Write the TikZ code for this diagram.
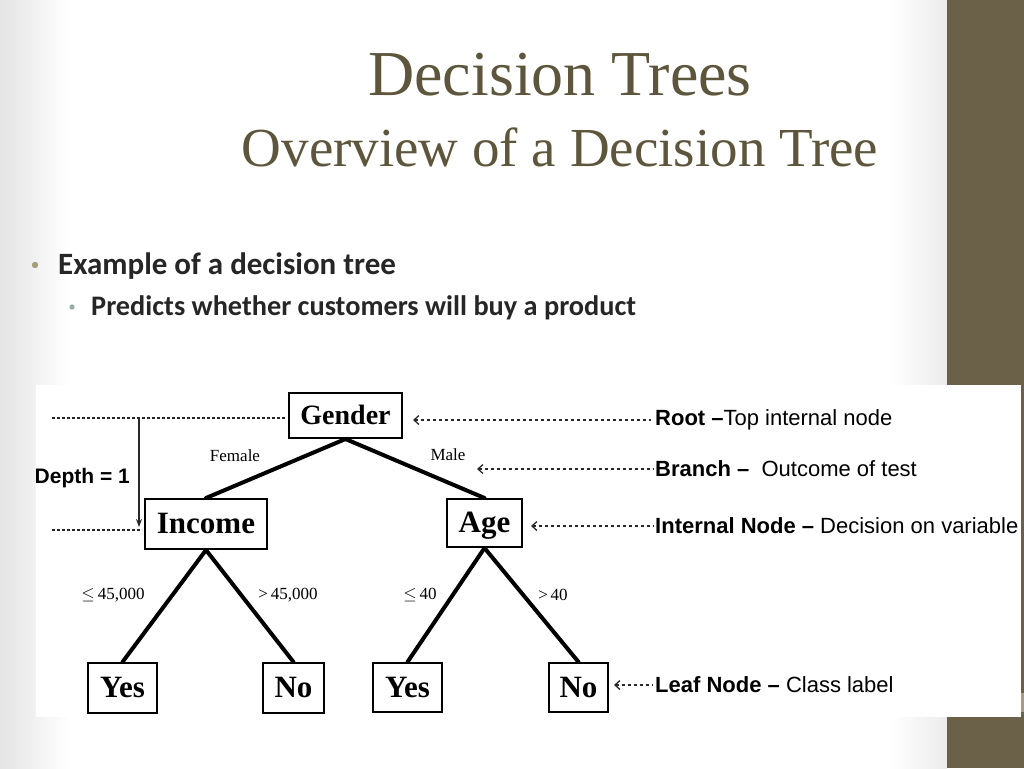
\documentclass[tikz,border=0pt]{standalone}
\usepackage{fontspec}
\setmainfont{Liberation Serif}
\newfontfamily\bodyf{Carlito}
\newfontfamily\annf{Liberation Sans}
\usetikzlibrary{arrows.meta}
\definecolor{barc}{RGB}{107,96,72}
\definecolor{barlight}{RGB}{165,157,124}
\definecolor{titlec}{RGB}{94,86,60}
\definecolor{bodyc}{RGB}{38,38,38}
\definecolor{bul1}{RGB}{164,160,122}
\definecolor{bul2}{RGB}{150,172,165}
\definecolor{linec}{RGB}{40,40,40}
\definecolor{edgegray}{RGB}{228,228,228}
\tikzset{
  treebox/.style={draw=black, line width=2pt, inner sep=0pt, text height=23pt, text depth=4pt, font=\bfseries\fontsize{31}{31}\selectfont},
  edge/.style={line width=4pt, line cap=round},
  elabel/.style={inner sep=0pt, font=\fontsize{17}{17}\selectfont},
  annlbl/.style={anchor=west, inner sep=0pt, font=\annf\fontsize{22}{22}\selectfont},
  annarrow/.style={draw=linec, line width=1.3pt, dash pattern=on 3.5pt off 2.5pt, {Straight Barb[length=5pt,width=9pt]}-},
  dotline/.style={draw=linec, line width=1.5pt, dash pattern=on 3pt off 2pt}
}
\begin{document}
\begin{tikzpicture}[x=1pt,y=-1pt]
\useasboundingbox (0,0) rectangle (1024,768);
% slide background
\fill[white] (0,0) rectangle (1024,768);
\shade[left color=edgegray, right color=white] (0,0) rectangle (70,768);
\shade[left color=white, right color=edgegray!70] (890,0) rectangle (947,768);
\fill[barc] (947,0) rectangle (1024,768);
% title
\node[text=titlec, font=\fontsize{64}{64}\selectfont, anchor=base] (t1) at (560,95) {Decision Trees};
\node[text=titlec, font=\fontsize{55}{55}\selectfont, anchor=base] (t2) at (560,166) {Overview of a Decision Tree};
% bullets
\fill[bul1] (35,265) circle (3.2);
\node[text=bodyc, font=\bodyf\bfseries\fontsize{31}{31}\selectfont, anchor=base west, inner sep=0pt] (b1) at (58,274) {Example of a decision tree};
\fill[bul2] (72,307) circle (2.6);
\node[text=bodyc, font=\bodyf\bfseries\fontsize{28.3}{28.3}\selectfont, anchor=base west, inner sep=0pt] (b2) at (91,315) {Predicts whether customers will buy a product};
% picture area
\fill[white] (36,385) rectangle (1021,717);
\fill[barlight] (1021,693) rectangle (1024,712);
\begin{scope}
\clip (36,385) rectangle (1021,717);
\node[font=\annf\bfseries\fontsize{21}{21}\selectfont, anchor=east, inner sep=0pt] (depth) at (130,478) {Depth = 1};
\end{scope}
% tree nodes
\node[treebox, font=\bfseries\fontsize{28}{28}\selectfont, text height=21pt, text depth=4pt, minimum width=113pt, minimum height=45pt] (gender) at (345.5,415.5) {Gender};
\node[treebox, minimum width=122pt, minimum height=50pt] (income) at (206,524) {Income};
\node[treebox, minimum width=75pt, minimum height=48pt] (age) at (484.5,523) {Age};
\node[treebox, minimum width=69pt, minimum height=50pt] (yes1) at (122.5,688) {Yes};
\node[treebox, minimum width=61pt, minimum height=50pt] (no1) at (293.5,688) {No};
\node[treebox, minimum width=69pt, minimum height=49pt] (yes2) at (407.5,687.5) {Yes};
\node[treebox, minimum width=59pt, minimum height=49pt] (no2) at (578.5,687.5) {No};
% tree edges
\draw[edge] (gender.south) -- (income.north);
\draw[edge] (gender.south) -- (age.north);
\draw[edge] (income.south) -- (yes1.north);
\draw[edge] (income.south) -- (no1.north);
\draw[edge] (age.south) -- (yes2.north);
\draw[edge] (age.south) -- (no2.north);
% edge labels
\node[elabel] (female) at (235,456) {Female};
\node[elabel] (male) at (448,455) {Male};
\node[elabel] (l1) at (113,595) {$\leq$\,45,000};
\node[elabel] (l2) at (288,595) {>\,45,000};
\node[elabel] (l3) at (420,595) {$\leq$\,40};
\node[elabel] (l4) at (553,595) {>\,40};
% depth markers
\coordinate (d1) at (52,418);
\coordinate (d2) at (52,530);
\coordinate (dtop) at (139,418);
\coordinate (dbot) at (139,527);
\draw[dotline] (d1) -- ([xshift=-3pt]gender.west |- d1);
\draw[dotline] (d2) -- ([xshift=-2pt]income.west |- d2);
\draw[draw=linec, line width=1.4pt, -{Stealth[length=8pt,width=6pt]}] (dtop) -- (dbot);
% annotations
\node[annlbl] (root) at (655,420) {\textbf{Root –}Top internal node};
\node[annlbl] (branch) at (655,469) {\textbf{Branch –}\ \ Outcome of test};
\node[annlbl] (internal) at (655,526) {\textbf{Internal Node –} Decision on variable};
\node[annlbl] (leaf) at (655,685) {\textbf{Leaf Node –} Class label};
\coordinate (brtip) at (477,469);
\draw[annarrow] ([xshift=10pt]gender.east |- root.west) -- ([xshift=-4pt]root.west);
\draw[annarrow] (brtip) -- ([xshift=-1pt]branch.west);
\draw[annarrow] ([xshift=8pt]age.east |- internal.west) -- ([xshift=-1pt]internal.west);
\draw[annarrow] ([xshift=5pt]no2.east |- leaf.west) -- ([xshift=-2pt]leaf.west);
\end{tikzpicture}
\end{document}
